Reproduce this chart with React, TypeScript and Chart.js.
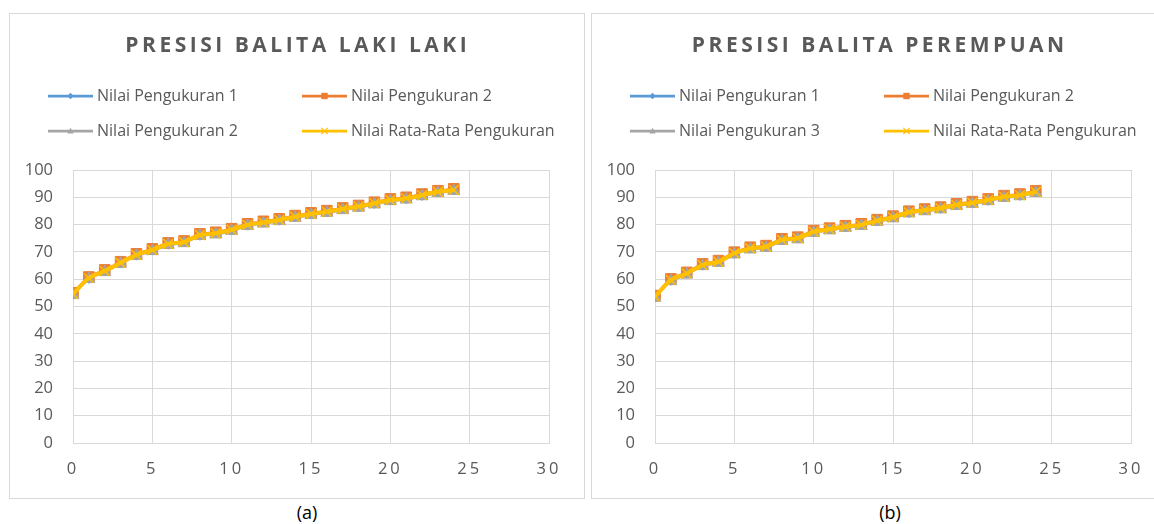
import React, { useEffect, useRef } from 'react';
import { Chart, registerables } from 'chart.js';

Chart.register(...registerables);

// ---------- data ----------
const X_VALUES = [0, 1, 2, 3, 4, 5, 6, 7, 8, 9, 10, 11, 12, 13, 14, 15, 16, 17, 18, 19, 20, 21, 22, 23, 24];

const TITLE_A = 'PRESISI BALITA LAKI LAKI';
const NAMES_A = ['Nilai Pengukuran 1', 'Nilai Pengukuran 2', 'Nilai Pengukuran 2', 'Nilai Rata-Rata Pengukuran'];
const A_P1 = [54.5, 60.3, 63.1, 65.9, 68.8, 70.8, 72.8, 73.7, 76.1, 76.9, 78.0, 79.8, 80.9, 81.6, 82.8, 83.9, 84.6, 85.8, 86.5, 87.7, 89.1, 89.5, 90.7, 92.1, 92.8];
const A_P2 = [55.0, 60.8, 63.4, 66.4, 69.3, 71.1, 73.3, 74.0, 76.6, 77.2, 78.5, 80.3, 81.2, 82.1, 83.3, 84.3, 85.1, 86.1, 87.0, 88.2, 89.4, 90.0, 91.2, 92.4, 93.1];
const A_P3 = [54.3, 60.1, 62.6, 65.7, 68.6, 70.3, 72.6, 73.2, 75.9, 76.4, 77.7, 79.5, 80.4, 81.3, 82.5, 83.5, 84.3, 85.3, 86.2, 87.4, 88.6, 89.2, 90.4, 91.6, 92.3];
const A_AVG = [54.6, 60.4, 63.0, 66.0, 68.9, 70.7, 72.9, 73.6, 76.2, 76.8, 78.1, 79.9, 80.8, 81.7, 82.9, 83.9, 84.7, 85.7, 86.6, 87.8, 89.0, 89.6, 90.8, 92.0, 92.7];

const TITLE_B = 'PRESISI BALITA PEREMPUAN';
const NAMES_B = ['Nilai Pengukuran 1', 'Nilai Pengukuran 2', 'Nilai Pengukuran 3', 'Nilai Rata-Rata Pengukuran'];
const B_P1 = [53.7, 59.6, 62.2, 65.1, 66.5, 69.4, 71.4, 71.8, 74.5, 75.1, 77.3, 78.4, 79.1, 80.0, 81.3, 82.8, 84.4, 85.4, 85.9, 87.3, 88.1, 88.9, 90.3, 90.7, 92.1];
const B_P2 = [54.0, 60.1, 62.5, 65.6, 66.8, 69.9, 71.7, 72.3, 74.8, 75.4, 77.8, 78.7, 79.6, 80.3, 81.8, 83.1, 84.9, 85.7, 86.4, 87.6, 88.4, 89.4, 90.6, 91.2, 92.4];
const B_P3 = [53.2, 59.3, 61.7, 64.8, 66.0, 69.1, 70.9, 71.5, 74.0, 74.6, 77.0, 77.9, 78.8, 79.5, 81.0, 82.3, 84.1, 84.9, 85.6, 86.8, 87.6, 88.6, 89.8, 90.4, 91.6];
const B_AVG = [53.6, 59.7, 62.1, 65.2, 66.4, 69.5, 71.3, 71.9, 74.4, 75.0, 77.4, 78.3, 79.2, 79.9, 81.4, 82.7, 84.5, 85.3, 86.0, 87.2, 88.0, 89.0, 90.2, 90.8, 92.0];

const X_MIN = 0, X_MAX = 30, X_STEP = 5;
const Y_MIN = 0, Y_MAX = 100, Y_STEP = 10;

// ---------- styles ----------
const COLORS = ['#5B9BD5', '#ED7D31', '#A5A5A5', '#FFC000'];
const STYLES = ['rectRot', 'rect', 'triangle', 'crossRot'];
const RADII = [5, 7.5, 7, 7];
const TEXT = '#595959';
const GRID = '#D9D9D9';
const FONT = '"Open Sans", "Noto Sans", sans-serif';

function drawMarker(ctx: CanvasRenderingContext2D, style: string, x: number, y: number, r: number, color: string) {
  ctx.save();
  ctx.fillStyle = color;
  ctx.strokeStyle = color;
  ctx.lineWidth = 1;
  ctx.beginPath();
  if (style === 'rectRot') {
    ctx.moveTo(x, y - r); ctx.lineTo(x + r, y); ctx.lineTo(x, y + r); ctx.lineTo(x - r, y); ctx.closePath();
    ctx.fill();
  } else if (style === 'rect') {
    ctx.rect(x - r, y - r, 2 * r, 2 * r); ctx.fill();
  } else if (style === 'triangle') {
    ctx.moveTo(x, y - r); ctx.lineTo(x + r, y + r * 0.8); ctx.lineTo(x - r, y + r * 0.8); ctx.closePath();
    ctx.fill();
  } else {
    ctx.lineWidth = 1.2;
    ctx.moveTo(x - r, y - r); ctx.lineTo(x + r, y + r);
    ctx.moveTo(x + r, y - r); ctx.lineTo(x - r, y + r);
    ctx.stroke();
  }
  ctx.restore();
}

const decoPlugin = {
  id: 'deco',
  beforeDraw(chart: any) {
    const sc = chart.scales.x;
    if (sc && !sc.__spaced) {
      const orig = sc.drawLabels.bind(sc);
      sc.drawLabels = (area: any) => {
        const ctx = chart.ctx;
        ctx.save();
        (ctx as any).letterSpacing = '3px';
        orig(area);
        ctx.restore();
      };
      sc.__spaced = true;
    }
  },
  afterDraw(chart: any, _args: any, opts: any) {
    const ctx: CanvasRenderingContext2D = chart.ctx;
    ctx.save();
    // title
    ctx.font = `bold 21px ${FONT}`;
    (ctx as any).letterSpacing = '3.5px';
    ctx.fillStyle = TEXT;
    ctx.textAlign = 'center';
    ctx.textBaseline = 'middle';
    ctx.fillText(opts.title, 286 + 1.75, 32);
    (ctx as any).letterSpacing = '0px';
    // legend
    ctx.font = `16px ${FONT}`;
    ctx.textAlign = 'left';
    const colX = [38, 292];
    const rowY = [82, 117];
    chart.data.datasets.forEach((ds: any, i: number) => {
      const x0 = colX[i % 2];
      const y = rowY[Math.floor(i / 2)];
      const color = COLORS[i];
      ctx.strokeStyle = color;
      ctx.lineWidth = 2.75;
      ctx.beginPath();
      ctx.moveTo(x0, y);
      ctx.lineTo(x0 + 45, y);
      ctx.stroke();
      drawMarker(ctx, STYLES[i], x0 + 22.5, y, 3.2, color);
      ctx.fillStyle = TEXT;
      ctx.fillText(ds.label, x0 + 49, y + 0.5);
    });
    ctx.restore();
  },
};

function makeConfig(title: string, names: string[], series: number[][]) {
  return {
    type: 'scatter' as const,
    data: {
      datasets: series.map((vals, i) => ({
        label: names[i],
        data: X_VALUES.map((x, j) => ({ x, y: vals[j] })),
        showLine: true,
        borderColor: COLORS[i],
        backgroundColor: COLORS[i],
        pointBorderColor: COLORS[i],
        pointBackgroundColor: COLORS[i],
        borderWidth: i === 3 ? 4 : 2.25,
        pointBorderWidth: i === 3 ? 1.5 : 1,
        pointStyle: STYLES[i],
        pointRadius: RADII[i],
        tension: 0.3,
        order: 4 - i,
      })),
    },
    options: {
      animation: false as const,
      responsive: false,
      maintainAspectRatio: false,
      layout: { padding: { top: 156, right: 35, left: 0, bottom: 0 } },
      plugins: {
        legend: { display: false },
        title: { display: false },
        tooltip: { enabled: false },
        deco: { title },
      },
      scales: {
        x: {
          type: 'linear' as const,
          min: X_MIN,
          max: X_MAX,
          ticks: { stepSize: X_STEP, color: TEXT, font: { family: FONT, size: 16.5 }, padding: 16, maxRotation: 0 },
          grid: { color: GRID, lineWidth: 1, drawTicks: false },
          border: { color: GRID, width: 1 },
          afterFit: (s: any) => { s.height = 55; },
        },
        y: {
          type: 'linear' as const,
          min: Y_MIN,
          max: Y_MAX,
          ticks: { stepSize: Y_STEP, color: TEXT, font: { family: FONT, size: 16.5 }, padding: 20 },
          grid: { color: GRID, lineWidth: 1, drawTicks: false },
          border: { color: GRID, width: 1 },
          afterFit: (s: any) => { s.width = 63; },
        },
      },
    },
    plugins: [decoPlugin],
  };
}

function ChartBox(props: { left: number; title: string; names: string[]; series: number[][] }) {
  const ref = useRef<HTMLCanvasElement>(null);
  useEffect(() => {
    if (!ref.current) return;
    const chart = new Chart(ref.current, makeConfig(props.title, props.names, props.series) as any);
    return () => chart.destroy();
  }, []);
  return (
    <div
      style={{
        position: 'absolute',
        left: props.left,
        top: 13,
        width: 574,
        height: 484,
        border: `1px solid ${GRID}`,
        background: '#fff',
      }}
    >
      <canvas ref={ref} width={574} height={484} style={{ display: 'block', width: 574, height: 484 }} />
    </div>
  );
}

export default function App() {
  return (
    <div
      style={{
        position: 'absolute',
        left: 0,
        top: 0,
        width: 1154,
        height: 524,
        overflow: 'hidden',
        background: '#fff',
      }}
    >
      <ChartBox left={9} title={TITLE_A} names={NAMES_A} series={[A_P1, A_P2, A_P3, A_AVG]} />
      <ChartBox left={591} title={TITLE_B} names={NAMES_B} series={[B_P1, B_P2, B_P3, B_AVG]} />
      <div style={{ position: 'absolute', left: 257, width: 100, top: 500, textAlign: 'center', font: `18px ${FONT}`, color: '#000' }}>(a)</div>
      <div style={{ position: 'absolute', left: 840, width: 100, top: 500, textAlign: 'center', font: `18px ${FONT}`, color: '#000' }}>(b)</div>
    </div>
  );
}
